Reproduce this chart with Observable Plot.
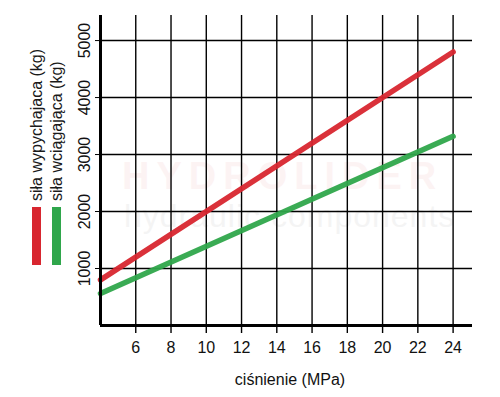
<!DOCTYPE html>
<html><head><meta charset="utf-8">
<script src="https://cdn.jsdelivr.net/npm/d3@7"></script>
<script src="https://cdn.jsdelivr.net/npm/@observablehq/plot@0.6"></script>
<style>
body{margin:0;background:#fff;font-family:"Liberation Sans",Arial,sans-serif;}
#wrap{position:relative;width:500px;height:397px;overflow:hidden;}
.leg{position:absolute;transform-origin:0 0;transform:rotate(-90deg);white-space:nowrap;font-size:16px;color:#1a1a1a;}
.sw{position:absolute;width:9px;height:58px;}
.wm{position:absolute;white-space:nowrap;pointer-events:none;line-height:1;}
</style></head>
<body><div id="wrap"></div>
<script>
const pressure = [4, 24];
const pushForce = [800, 4800];
const pullForce = [560, 3320];
const xTicks = [6, 8, 10, 12, 14, 16, 18, 20, 22, 24];
const yTicks = [1000, 2000, 3000, 4000, 5000];
const seriesNames = ["siła wypychajaca (kg)", "siła wciągająca (kg)"];
const seriesColors = ["#d8262f", "#2fa64b"];

const data = [];
pressure.forEach((p, i) => {
  data.push({p, v: pushForce[i], s: seriesNames[0]});
  data.push({p, v: pullForce[i], s: seriesNames[1]});
});

const wrap = document.getElementById("wrap");

// watermark (behind)
const wm1 = document.createElement("div");
wm1.className = "wm";
wm1.style.cssText = "left:122px;top:157px;font-size:38px;font-weight:bold;color:#d8262f;opacity:0.05;letter-spacing:7px;";
wm1.textContent = "HYDROLIDER";
wrap.appendChild(wm1);
const wm2 = document.createElement("div");
wm2.className = "wm";
wm2.style.cssText = "left:124px;top:200px;font-size:32px;color:#999;opacity:0.1;letter-spacing:1px;";
wm2.textContent = "hydraulic components";
wrap.appendChild(wm2);

const chart = Plot.plot({
  width: 500, height: 397,
  marginLeft: 100, marginTop: 15, marginBottom: 72, marginRight: 28,
  style: {fontFamily: "Liberation Sans, Arial, sans-serif", fontSize: "16px", color: "#111", background: "transparent"},
  x: {domain: [4, 25.1], label: null},
  y: {domain: [0, 5440], label: null},
  color: {domain: seriesNames, range: seriesColors},
  marks: [
    Plot.ruleX(xTicks, {stroke: "#000", strokeWidth: 1.4}),
    Plot.ruleY(yTicks, {stroke: "#000", strokeWidth: 1.4}),
    Plot.line(data, {x: "p", y: "v", z: "s", stroke: "s", strokeWidth: 5.5, strokeOpacity: 0.95}),
    Plot.axisX({ticks: xTicks, tickSize: 8, tickPadding: 8, stroke: "#000", strokeWidth: 1.4, fontSize: 16, label: null}),
    Plot.axisY({ticks: yTicks, tickFormat: d => String(d), tickSize: 5, tickPadding: 6, tickRotate: -90, stroke: "#000", fontSize: 16, label: null}),
    Plot.ruleX([4], {stroke: "#000", strokeWidth: 3}),
    Plot.ruleY([0], {stroke: "#000", strokeWidth: 3, x1: 4, x2: 25.1})
  ]
});
chart.style.position = "absolute";
chart.style.left = "0";
chart.style.top = "0";
wrap.appendChild(chart);

// x axis title
const xl = document.createElement("div");
xl.className = "wm";
xl.style.cssText = "left:0;width:500px;top:372px;font-size:16px;color:#111;text-align:center;padding-left:80px;box-sizing:border-box;";
xl.textContent = "ciśnienie (MPa)";
wrap.appendChild(xl);

// legend
const legX = [28, 48];
seriesNames.forEach((n, i) => {
  const t = document.createElement("div");
  t.className = "leg";
  t.style.left = legX[i] + "px";
  t.style.top = "201px";
  t.textContent = n;
  wrap.appendChild(t);
  const s = document.createElement("div");
  s.className = "sw";
  s.style.left = (legX[i] + 4) + "px";
  s.style.top = "207px";
  s.style.background = seriesColors[i];
  wrap.appendChild(s);
});
</script></body></html>
